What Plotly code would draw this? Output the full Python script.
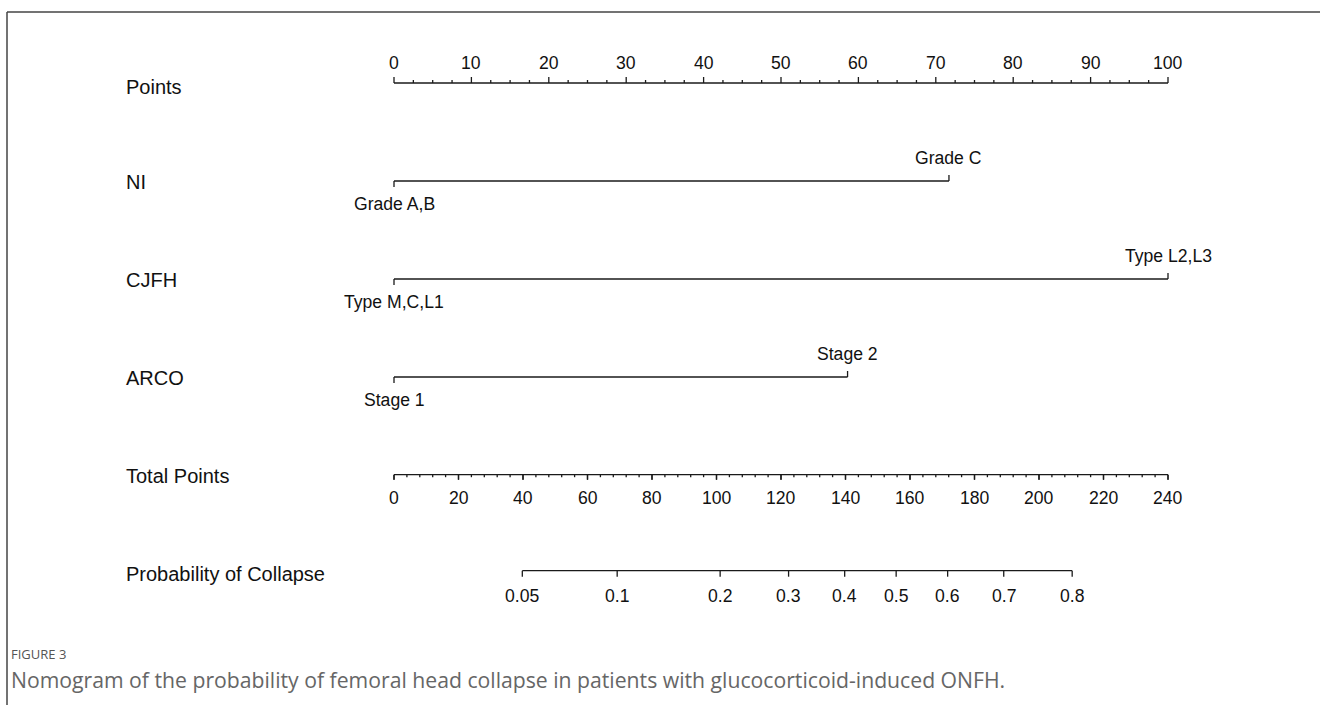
import math
import plotly.graph_objects as go

# ---------------- data ----------------
points_ticks = [0, 10, 20, 30, 40, 50, 60, 70, 80, 90, 100]
points_minor_step = 2.5

ni_levels = ["Grade A,B", "Grade C"]
ni_points = [0, 71.7]
cjfh_levels = ["Type M,C,L1", "Type L2,L3"]
cjfh_points = [0, 100]
arco_levels = ["Stage 1", "Stage 2"]
arco_points = [0, 58.6]

total_ticks = [0, 20, 40, 60, 80, 100, 120, 140, 160, 180, 200, 220, 240]
total_minor_step = 4
total_max = 240

prob_ticks = [0.05, 0.1, 0.2, 0.3, 0.4, 0.5, 0.6, 0.7, 0.8]
prob_labels = ["0.05", "0.1", "0.2", "0.3", "0.4", "0.5", "0.6", "0.7", "0.8"]
lp_intercept = -3.955   # linear predictor = intercept + slope * total points
lp_slope = 0.0254

row_names = ["Points", "NI", "CJFH", "ARCO", "Total Points", "Probability of Collapse"]

# ---------------- layout constants ----------------
W, H = 1320, 705
PX0, PX100 = 394, 1168            # pixel span of the 0..100 points scale
ppu = (PX100 - PX0) / 100.0
xr = [-PX0 / ppu, (W - PX0) / ppu]

y_points, y_ni, y_cjfh, y_arco, y_total, y_prob = 83, 181, 279, 377, 474.7, 570.7
label_y = [87, 182, 280, 378, 476, 574]

LINE = "#1a1a1a"
LW = 1.3
FONT = "Liberation Sans, Arial, sans-serif"
TXT = "#111111"


def tp_to_points(tp):
    return tp * 100.0 / total_max


def prob_to_tp(p):
    return (math.log(p / (1 - p)) - lp_intercept) / lp_slope


fig = go.Figure()
annotations = []


def seg_trace(xs, ys):
    fig.add_trace(go.Scatter(x=xs, y=ys, mode="lines",
                             line=dict(color=LINE, width=LW),
                             hoverinfo="skip", showlegend=False))


def add_label(x, y, text, size=17.6):
    annotations.append(dict(x=x, y=y, xref="x", yref="y", text=text,
                            showarrow=False, xanchor="center", yanchor="middle",
                            font=dict(family=FONT, size=size, color=TXT)))


# Points axis (ticks up, labels above)
xs, ys = [points_ticks[0], points_ticks[-1], None], [y_points, y_points, None]
n_minor = int(round((points_ticks[-1] - points_ticks[0]) / points_minor_step))
for i in range(n_minor + 1):
    v = points_ticks[0] + i * points_minor_step
    major = any(abs(v - t) < 1e-9 for t in points_ticks)
    xs += [v, v, None]
    ys += [y_points, y_points - (6 if major else 3), None]
seg_trace(xs, ys)
for t in points_ticks:
    add_label(t, y_points - 20, str(t))

# categorical variables
for levels, pts, yl in [(ni_levels, ni_points, y_ni),
                        (cjfh_levels, cjfh_points, y_cjfh),
                        (arco_levels, arco_points, y_arco)]:
    xs = [min(pts), max(pts), None]
    ys = [yl, yl, None]
    for k, (lev, p) in enumerate(zip(levels, pts)):
        d = 1 if k % 2 == 0 else -1   # first level below, second above
        xs += [p, p, None]
        ys += [yl, yl + d * 6, None]
        add_label(p, yl + d * 23, lev)
    seg_trace(xs, ys)

# Total points axis (ticks down, labels below)
xs = [tp_to_points(total_ticks[0]), tp_to_points(total_ticks[-1]), None]
ys = [y_total, y_total, None]
n_minor = int(round((total_ticks[-1] - total_ticks[0]) / total_minor_step))
for i in range(n_minor + 1):
    v = total_ticks[0] + i * total_minor_step
    major = any(abs(v - t) < 1e-9 for t in total_ticks)
    xs += [tp_to_points(v), tp_to_points(v), None]
    ys += [y_total, y_total + (5 if major else 2.5), None]
for t in total_ticks:
    xs += [tp_to_points(t), tp_to_points(t), None]
    ys += [y_total, y_total + 5, None]
seg_trace(xs, ys)
for t in total_ticks:
    add_label(tp_to_points(t), y_total + 23, str(t))

# Probability axis
pp = [tp_to_points(prob_to_tp(p)) for p in prob_ticks]
xs = [pp[0], pp[-1], None]
ys = [y_prob, y_prob, None]
for v in pp:
    xs += [v, v, None]
    ys += [y_prob, y_prob + 6, None]
seg_trace(xs, ys)
for v, lab in zip(pp, prob_labels):
    add_label(v, y_prob + 25, lab)

# row names
for name, yv in zip(row_names, label_y):
    annotations.append(dict(x=124 / W, y=yv, xref="paper", yref="y", text=name,
                            showarrow=False, xanchor="left", yanchor="middle",
                            font=dict(family=FONT, size=20, color=TXT)))

# caption
annotations.append(dict(x=9 / W, y=654, xref="paper", yref="y", text="FIGURE 3",
                        showarrow=False, xanchor="left", yanchor="middle",
                        font=dict(family="Open Sans, sans-serif", size=13, color="#555555")))
annotations.append(dict(x=9 / W, y=679, xref="paper", yref="y",
                        text="Nomogram of the probability of femoral head collapse in patients with glucocorticoid-induced ONFH.",
                        showarrow=False, xanchor="left", yanchor="middle",
                        font=dict(family="Open Sans, sans-serif", size=21.2, color="#666666")))

shapes = [
    dict(type="line", xref="paper", yref="paper", x0=7 / W, x1=1, y0=1 - 12 / H, y1=1 - 12 / H,
         line=dict(color="#444444", width=1.5)),
    dict(type="line", xref="paper", yref="paper", x0=7 / W, x1=7 / W, y0=1 - 12 / H, y1=0,
         line=dict(color="#444444", width=1.5)),
]

fig.update_layout(
    width=W, height=H,
    margin=dict(l=0, r=0, t=0, b=0),
    paper_bgcolor="white", plot_bgcolor="white",
    xaxis=dict(range=xr, visible=False, fixedrange=True),
    yaxis=dict(range=[H, 0], visible=False, fixedrange=True),
    annotations=annotations, shapes=shapes,
    showlegend=False,
)

fig.write_html("out.html")
